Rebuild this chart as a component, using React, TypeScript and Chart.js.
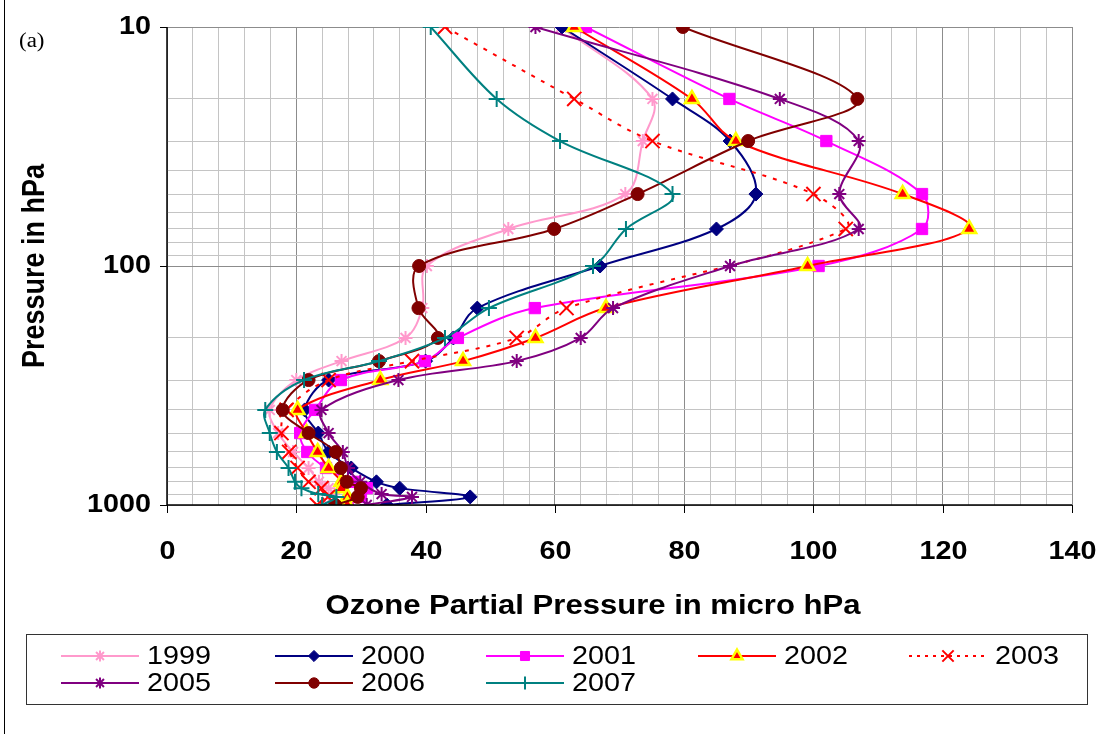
import React, { useEffect, useRef } from "react";
import { Chart, registerables } from "chart.js";

Chart.register(...registerables);

// ---------- DATA ----------
const pressureLevels = [10, 20, 30, 50, 70, 100, 150, 200, 250, 300, 400, 500, 600, 700, 800, 850, 900, 925, 1000];

const ozone1999 = [61.0, 75.1, 73.6, 70.9, 52.8, 40.2, 39.5, 36.9, 27.0, 20.0, 15.9, 17.2, 19.5, 21.9, 23.5, 25.0, null, 26.0, 25.0];
const ozone2000 = [61.1, 78.2, 87.1, 91.1, 85.0, 67.0, 48.0, 44.3, 40.0, 25.0, 21.3, 23.4, 25.0, 28.5, 32.4, 36.0, null, 46.9, 34.0];
const ozone2001 = [64.8, 87.0, 102.0, 116.8, 116.8, 100.8, 56.9, 45.0, 39.9, 26.9, 22.9, 20.6, 21.7, 24.6, 28.9, 30.9, null, 30.0, 28.0];
const ozone2002 = [63.0, 81.2, 88.0, 113.8, 124.1, 99.1, 67.9, 57.0, 45.8, 33.0, 20.2, 21.6, 23.3, 25.0, 27.0, 27.0, null, 27.9, 27.9];
const ozone2003 = [43.0, 63.0, 75.1, 100.0, 105.0, null, 61.8, 54.1, 37.9, 25.0, 18.5, 17.7, 18.9, 20.2, 21.9, 23.9, null, 24.9, 23.2];
const ozone2005 = [57.0, 94.8, 107.0, 104.0, 107.0, 87.1, 69.0, 64.0, 54.1, 35.8, 23.9, 25.0, 27.2, 28.0, 29.9, null, 33.2, 37.9, 30.9];
const ozone2006 = [79.8, 106.8, 89.9, 72.8, 59.9, 39.0, 38.9, 41.9, 32.8, 21.9, 17.9, 21.9, 26.1, 26.9, 27.8, 30.0, null, 29.5, 26.0];
const ozone2007 = [40.8, 51.0, 60.8, 78.2, 71.0, 65.9, 49.8, 43.0, 32.8, 21.2, 15.2, 15.9, 17.0, 18.8, 19.8, 20.8, 23.4, 26.2, 24.0];

const xTickLabels = ["0", "20", "40", "60", "80", "100", "120", "140"];
const yTickLabels = ["10", "100", "1000"];

const xTitle = "Ozone Partial Pressure in micro hPa";
const yTitle = "Pressure in hPa";
const panelLabel = "(a)";

type SeriesStyle = {
  label: string;
  values: (number | null)[];
  color: string;
  marker: string;
  radius: number;
  fill: string;
  stroke: string;
  markerWidth: number;
  dash: number[];
};

const series: SeriesStyle[] = [
  { label: "1999", values: ozone1999, color: "#FF99CC", marker: "star", radius: 7, fill: "#FF99CC", stroke: "#FF99CC", markerWidth: 2, dash: [] },
  { label: "2000", values: ozone2000, color: "#000080", marker: "rectRot", radius: 7, fill: "#000080", stroke: "#000080", markerWidth: 1, dash: [] },
  { label: "2001", values: ozone2001, color: "#FF00FF", marker: "rect", radius: 8, fill: "#FF00FF", stroke: "#FF00FF", markerWidth: 1, dash: [] },
  { label: "2002", values: ozone2002, color: "#FF0000", marker: "triangle", radius: 8, fill: "#FF0000", stroke: "#FFFF00", markerWidth: 2.5, dash: [] },
  { label: "2003", values: ozone2003, color: "#FF0000", marker: "crossRot", radius: 10, fill: "#FF0000", stroke: "#FF0000", markerWidth: 2, dash: [4, 7] },
  { label: "2005", values: ozone2005, color: "#800080", marker: "star", radius: 7, fill: "#800080", stroke: "#800080", markerWidth: 2, dash: [] },
  { label: "2006", values: ozone2006, color: "#800000", marker: "circle", radius: 6.5, fill: "#800000", stroke: "#800000", markerWidth: 1, dash: [] },
  { label: "2007", values: ozone2007, color: "#008080", marker: "cross", radius: 8, fill: "#008080", stroke: "#008080", markerWidth: 2, dash: [] },
];

// ---------- drawing helpers ----------
const SX = 1.15;
const SANS = "'Liberation Sans', Arial, sans-serif";

function drawText(
  ctx: CanvasRenderingContext2D,
  text: string,
  x: number,
  y: number,
  font: string,
  align: CanvasTextAlign,
  rotate = false
) {
  ctx.save();
  ctx.translate(x, y);
  if (rotate) {
    ctx.rotate(-Math.PI / 2);
    ctx.scale(1, SX);
  } else {
    ctx.scale(SX, 1);
  }
  ctx.font = font;
  ctx.fillStyle = "#000";
  ctx.textAlign = align;
  ctx.textBaseline = "middle";
  ctx.fillText(text, 0, 0);
  ctx.restore();
}

function drawMarker(ctx: CanvasRenderingContext2D, s: SeriesStyle, x: number, y: number, scale: number) {
  const r = s.radius * scale;
  ctx.save();
  ctx.fillStyle = s.fill;
  ctx.strokeStyle = s.stroke;
  ctx.lineWidth = s.markerWidth;
  ctx.setLineDash([]);
  ctx.beginPath();
  const c = Math.SQRT1_2 * r;
  switch (s.marker) {
    case "circle":
      ctx.arc(x, y, r, 0, Math.PI * 2);
      ctx.fill();
      ctx.stroke();
      break;
    case "rect":
      ctx.rect(x - c, y - c, 2 * c, 2 * c);
      ctx.fill();
      ctx.stroke();
      break;
    case "rectRot":
      ctx.moveTo(x, y - r);
      ctx.lineTo(x + r, y);
      ctx.lineTo(x, y + r);
      ctx.lineTo(x - r, y);
      ctx.closePath();
      ctx.fill();
      ctx.stroke();
      break;
    case "triangle":
      ctx.moveTo(x, y - r);
      ctx.lineTo(x + r * 0.866, y + r * 0.5);
      ctx.lineTo(x - r * 0.866, y + r * 0.5);
      ctx.closePath();
      ctx.fill();
      ctx.stroke();
      break;
    case "cross":
      ctx.moveTo(x - r, y);
      ctx.lineTo(x + r, y);
      ctx.moveTo(x, y - r);
      ctx.lineTo(x, y + r);
      ctx.stroke();
      break;
    case "crossRot":
      ctx.moveTo(x - c, y - c);
      ctx.lineTo(x + c, y + c);
      ctx.moveTo(x - c, y + c);
      ctx.lineTo(x + c, y - c);
      ctx.stroke();
      break;
    case "star":
      ctx.moveTo(x - r, y);
      ctx.lineTo(x + r, y);
      ctx.moveTo(x, y - r);
      ctx.lineTo(x, y + r);
      ctx.moveTo(x - c, y - c);
      ctx.lineTo(x + c, y + c);
      ctx.moveTo(x - c, y + c);
      ctx.lineTo(x + c, y - c);
      ctx.stroke();
      break;
  }
  ctx.restore();
}

const overlayPlugin = {
  id: "overlay",
  beforeDraw(chart: any) {
    const ctx = chart.ctx as CanvasRenderingContext2D;
    ctx.save();
    ctx.fillStyle = "#fff";
    ctx.fillRect(0, 0, chart.width, chart.height);
    ctx.restore();
  },
  afterDraw(chart: any) {
    const ctx = chart.ctx as CanvasRenderingContext2D;
    const area = chart.chartArea;
    const xs = chart.scales.x;
    const ys = chart.scales.y;
    ctx.save();
    // axis lines
    ctx.strokeStyle = "#000";
    ctx.lineWidth = 1.5;
    ctx.beginPath();
    ctx.moveTo(area.left, area.top);
    ctx.lineTo(area.left, area.bottom);
    ctx.lineTo(area.right, area.bottom);
    ctx.stroke();
    ctx.lineWidth = 1;
    // x tick marks + labels
    xTickLabels.forEach((t) => {
      const px = Math.round(xs.getPixelForValue(Number(t))) + 0.5;
      ctx.beginPath();
      ctx.moveTo(px, area.bottom);
      ctx.lineTo(px, area.bottom + 8);
      ctx.stroke();
      drawText(ctx, t, px, area.bottom + 47, `bold 25px ${SANS}`, "center");
    });
    // y tick marks + labels
    yTickLabels.forEach((t) => {
      const py = Math.round(ys.getPixelForValue(Number(t))) + 0.5;
      ctx.beginPath();
      ctx.moveTo(area.left - 7, py);
      ctx.lineTo(area.left, py);
      ctx.stroke();
      drawText(ctx, t, area.left - 16, py, `bold 25px ${SANS}`, "right");
    });
    // titles
    drawText(ctx, xTitle, 593, 607, `bold 27px ${SANS}`, "center");
    drawText(ctx, yTitle, 35, 266, `bold 27px ${SANS}`, "center", true);
    drawText(ctx, panelLabel, 19, 42, "20px 'Liberation Serif', 'Times New Roman', serif", "left");

    // outer border (left edge)
    ctx.strokeStyle = "#000";
    ctx.lineWidth = 1;
    ctx.beginPath();
    ctx.moveTo(4.5, 0);
    ctx.lineTo(4.5, chart.height);
    ctx.stroke();

    // legend
    ctx.strokeStyle = "#333";
    ctx.strokeRect(26.5, 634.5, 1061, 70);
    const colX = [61, 275, 486, 698, 909];
    const rowY = [656, 683];
    series.forEach((s, i) => {
      const x0 = colX[i % 5];
      const y0 = rowY[Math.floor(i / 5)];
      ctx.save();
      ctx.strokeStyle = s.color;
      ctx.lineWidth = 2;
      ctx.setLineDash(s.dash.length ? [3, 5] : []);
      ctx.beginPath();
      ctx.moveTo(x0, y0);
      ctx.lineTo(x0 + 78, y0);
      ctx.stroke();
      ctx.restore();
      drawMarker(ctx, s, x0 + 39, y0, 0.8);
      drawText(ctx, s.label, x0 + 86, y0 + 1, `25px ${SANS}`, "left");
    });
    ctx.restore();
  },
};

const xGridTicks: number[] = [];
for (let v = 0; v <= 140; v += 4) xGridTicks.push(v);
const yGridTicks: number[] = [];
[10, 100].forEach((d) => {
  for (let k = 1; k < 10; k++) yGridTicks.push(d * k);
});
yGridTicks.push(1000);

export default function App() {
  const canvasRef = useRef<HTMLCanvasElement | null>(null);

  useEffect(() => {
    if (!canvasRef.current) return;
    const datasets = series.map((s, i) => ({
      label: s.label,
      data: pressureLevels
        .map((p, j) => (s.values[j] == null ? null : { x: s.values[j] as number, y: p }))
        .filter((d) => d !== null),
      showLine: true,
      borderColor: s.color,
      backgroundColor: s.fill,
      borderWidth: 2,
      borderDash: s.dash,
      tension: 0.35,
      pointStyle: s.marker,
      pointRadius: s.radius,
      pointBackgroundColor: s.fill,
      pointBorderColor: s.stroke,
      pointBorderWidth: s.markerWidth,
      order: -i,
    }));

    const chart = new Chart(canvasRef.current, {
      type: "scatter",
      data: { datasets: datasets as any },
      options: {
        responsive: false,
        animation: false,
        devicePixelRatio: 1,
        layout: { padding: { left: 167, right: 39, top: 27, bottom: 229 } },
        plugins: { legend: { display: false }, tooltip: { enabled: false } },
        scales: {
          x: {
            type: "linear",
            min: 0,
            max: 140,
            afterBuildTicks: (s: any) => {
              s.ticks = xGridTicks.map((v) => ({ value: v }));
            },
            afterFit: (s: any) => {
              s.height = 0;
            },
            ticks: { display: false },
            border: { display: false },
            grid: {
              drawTicks: false,
              lineWidth: 1,
              color: (c: any) => (c.tick && c.tick.value % 20 === 0 ? "#8C8C8C" : "#C4C4C4"),
            },
          },
          y: {
            type: "logarithmic",
            min: 10,
            max: 1000,
            reverse: true,
            afterBuildTicks: (s: any) => {
              s.ticks = yGridTicks.map((v) => ({ value: v }));
            },
            afterFit: (s: any) => {
              s.width = 0;
            },
            ticks: { display: false },
            border: { display: false },
            grid: {
              drawTicks: false,
              lineWidth: 1,
              color: (c: any) =>
                c.tick && [10, 100, 1000].includes(c.tick.value) ? "#8C8C8C" : "#C4C4C4",
            },
          },
        },
      },
      plugins: [overlayPlugin],
    });
    return () => chart.destroy();
  }, []);

  return (
    <div style={{ position: "absolute", left: 0, top: 0, width: 1111, height: 734, background: "#fff" }}>
      <canvas ref={canvasRef} width={1111} height={734} style={{ display: "block", width: 1111, height: 734 }} />
    </div>
  );
}
